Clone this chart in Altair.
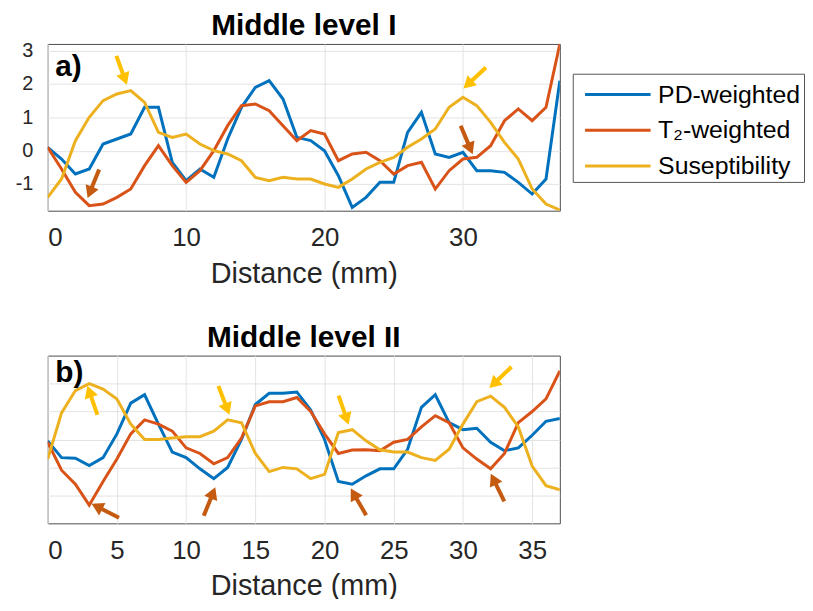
import altair as alt
import pandas as pd

# ---------------- data ----------------
distance = list(range(38))
series_names = ["PD-weighted", "T₂-weighted", "Suseptibility"]
series_colors = ["#0072BD", "#D95319", "#EDB120"]

# Panel a) Middle level I
top_pd = [0.1, -0.25, -0.7, -0.55, 0.2, 0.35, 0.5, 1.3, 1.3, -0.35,
          -0.9, -0.55, -0.8, 0.35, 1.3, 1.9, 2.1, 1.55, 0.4, 0.3,
          0.0, -0.75, -1.7, -1.4, -0.95, -0.95, 0.55, 1.15, -0.1, -0.2,
          -0.05, -0.6, -0.6, -0.65, -0.95, -1.3, -0.85, 2.1]
top_t2 = [0.1, -0.55, -1.25, -1.65, -1.6, -1.4, -1.15, -0.45, 0.15, -0.45,
          -0.95, -0.6, 0.0, 0.75, 1.35, 1.4, 1.2, 0.75, 0.3, 0.6,
          0.5, -0.3, -0.1, -0.05, -0.3, -0.7, -0.45, -0.35, -1.15, -0.6,
          -0.25, -0.2, 0.15, 0.9, 1.25, 0.9, 1.3, 3.2]
top_sus = [-1.4, -0.85, 0.3, 1.0, 1.5, 1.7, 1.8, 1.45, 0.55, 0.4,
           0.5, 0.2, 0.0, -0.1, -0.3, -0.8, -0.9, -0.8, -0.85, -0.85,
           -1.0, -1.1, -0.85, -0.55, -0.35, -0.2, 0.1, 0.35, 0.65, 1.3,
           1.6, 1.35, 0.85, 0.25, -0.25, -1.15, -1.6, -1.78]

# Panel b) Middle level II
bot_pd = [-0.05, -0.65, -0.67, -0.93, -0.65, 0.2, 1.3, 1.6, 0.55, -0.45,
          -0.65, -1.05, -1.4, -1.0, 0.0, 1.25, 1.65, 1.65, 1.7, 1.05,
          0.0, -1.5, -1.6, -1.3, -1.05, -1.05, -0.35, 1.15, 1.6, 0.6,
          0.35, 0.4, -0.1, -0.4, -0.3, 0.15, 0.65, 0.75]
bot_t2 = [-0.1, -1.1, -1.6, -2.35, -1.5, -0.7, 0.2, 0.7, 0.55, 0.3,
          -0.3, -0.5, -0.87, -0.65, 0.05, 1.2, 1.35, 1.35, 1.5, 1.0,
          0.2, -0.5, -0.38, -0.37, -0.4, -0.1, 0.0, 0.45, 0.85, 0.6,
          -0.3, -0.7, -1.05, -0.5, 0.6, 1.0, 1.45, 2.45]
bot_sus = [-0.7, 0.95, 1.75, 2.0, 1.8, 1.45, 0.55, 0.0, 0.0, 0.05,
           0.1, 0.1, 0.3, 0.7, 0.6, -0.5, -1.15, -1.0, -1.05, -1.4,
           -1.25, 0.25, 0.35, -0.05, -0.37, -0.45, -0.45, -0.65, -0.75, -0.35,
           0.55, 1.35, 1.55, 1.15, 0.45, -0.95, -1.65, -1.8]

# Arrow annotations: centre (distance, value), direction in degrees (clockwise from up), kind
top_arrow_x = [5.34, 3.30, 30.85, 30.27]
top_arrow_y = [2.41, -0.99, 2.18, 0.32]
top_arrow_angle = [160, 202, 227, 157]
top_arrow_kind = ["sus", "t2", "sus", "t2"]

bot_arrow_x = [3.23, 4.16, 12.73, 11.69, 21.38, 22.45, 32.71, 32.5]
bot_arrow_y = [1.40, -2.55, 1.40, -2.22, 1.05, -2.23, 2.22, -1.72]
bot_arrow_angle = [341, 297, 159, 22, 161, 330, 226, 334]
bot_arrow_kind = ["sus", "t2", "sus", "t2", "sus", "t2", "sus", "t2"]

arrow_colors = {"sus": "#FFC000", "t2": "#C55A11"}

panel_labels = ["a)", "b)"]
panel_label_x = [0.55, 0.55]
panel_label_y = [2.24, 2.06]

top_y_ticks = [-1, 0, 1, 2, 3]
bot_y_ticks = [-2, -1, 0, 1, 2]
top_x_ticks = [0, 10, 20, 30]
bot_x_ticks = [0, 5, 10, 15, 20, 25, 30, 35]

FONT = "Liberation Sans"
ARROW = "M-0.13,1 L0.13,1 L0.13,-0.22 L0.45,-0.22 L0,-1 L-0.45,-0.22 L-0.13,-0.22 Z"
LEG_LINE = "M-0.52,0 L3.48,0"


def long_df(a, b, c):
    rows = []
    for name, vals in zip(series_names, [a, b, c]):
        for x, v in zip(distance, vals):
            rows.append({"x": x, "v": v, "s": name})
    return pd.DataFrame(rows)


def arrow_df(xs, ys, angs, kinds):
    return pd.DataFrame({"x": xs, "v": ys, "a": angs,
                         "c": [arrow_colors[k] for k in kinds]})


def panel(df, adf, label, lx, ly, y_domain, y_ticks, x_ticks, title, title_offset,
          show_y_labels, legend, h):
    xenc = alt.X("x:Q",
                 scale=alt.Scale(domain=[0, 37], nice=False, zero=False),
                 axis=alt.Axis(values=x_ticks, title="Distance (mm)", labelFontSize=26,
                               labelPadding=14, titlePadding=9, labelExpr="datum.value"))
    yenc = alt.Y("v:Q",
                 scale=alt.Scale(domain=y_domain, nice=False, zero=False),
                 axis=alt.Axis(values=y_ticks, labels=show_y_labels, title=None,
                               labelFontSize=20, labelPadding=15,
                               minExtent=38, maxExtent=38, labelExpr="datum.value"))
    lines = alt.Chart(df).mark_line(strokeWidth=3, clip=True).encode(
        x=xenc, y=yenc,
        color=alt.Color("s:N", scale=alt.Scale(domain=series_names, range=series_colors),
                        sort=series_names, legend=legend, title=None),
    )
    arrows = alt.Chart(adf).mark_point(shape=ARROW, size=961, filled=True,
                                       opacity=1, strokeWidth=0).encode(
        x="x:Q", y="v:Q",
        angle=alt.Angle("a:Q", scale=None),
        fill=alt.Fill("c:N", scale=None),
    )
    lab = alt.Chart(pd.DataFrame({"x": [lx], "v": [ly], "t": [label]})).mark_text(
        fontSize=30, fontWeight="bold", font=FONT, align="left", baseline="alphabetic",
        color="black").encode(x="x:Q", y="v:Q", text="t:N")
    return alt.layer(lines, arrows, lab).properties(
        width=516, height=h,
        title=alt.TitleParams(title, fontSize=30, fontWeight="bold", font=FONT,
                              color="black", offset=title_offset),
    )


top_legend = alt.Legend(
    orient="none", legendX=529, legendY=30,
    symbolType=LEG_LINE, symbolSize=1089, symbolStrokeWidth=3,
    labelFontSize=25, labelFont=FONT, labelColor="black", labelOffset=47,
    rowPadding=5, padding=3, strokeColor="#555555", fillColor="white",
    cornerRadius=0, labelLimit=400,
)

top = panel(long_df(top_pd, top_t2, top_sus),
            arrow_df(top_arrow_x, top_arrow_y, top_arrow_angle, top_arrow_kind),
            panel_labels[0], panel_label_x[0], panel_label_y[0],
            [-1.8, 3.2], top_y_ticks, top_x_ticks, "Middle level I", 0, True, top_legend, 168)
bottom = panel(long_df(bot_pd, bot_t2, bot_sus),
               arrow_df(bot_arrow_x, bot_arrow_y, bot_arrow_angle, bot_arrow_kind),
               panel_labels[1], panel_label_x[1], panel_label_y[1],
               [-3, 3], bot_y_ticks, bot_x_ticks, "Middle level II", 3, False, None, 169)

chart = alt.vconcat(top, bottom, spacing=33).resolve_scale(
    color="independent", x="independent", y="independent"
).properties(
    padding={"left": 1, "top": 0, "right": 0, "bottom": -5}
).configure_view(
    stroke="#4d4d4d", strokeWidth=1
).configure_axis(
    labelFont=FONT, titleFont=FONT, labelColor="#262626", titleColor="#262626",
    titleFontSize=29, titleFontWeight="normal",
    grid=True, gridColor="#e3e3e3", gridWidth=1, domain=False, ticks=False,
)

chart.save("out.html", embed_options={"renderer": "svg", "actions": False})
